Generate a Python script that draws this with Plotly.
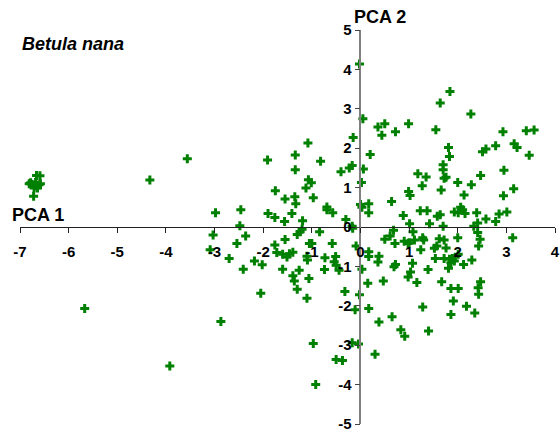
import plotly.graph_objects as go

# PCA scores (Betula nana)
pca1 = [
    -6.59, -6.66, -6.78, -6.68, -6.61, -6.71, -6.64, -6.72, -6.81, -6.58, -6.70, -6.75,
    -3.56, -4.33, -5.67, -3.92, -2.87, -2.05,
    -2.98, -2.46, -2.48, -1.91, -1.90, -1.76, -1.75, -1.56, -1.55, -1.41, -1.34, -1.34,
    -1.35, -1.33, -1.19, -1.12, -1.08, -1.07, -1.01, -0.97, -0.82, -0.69, -0.69, -0.57,
    -0.40, -0.30, -0.23, -0.17, -0.15, -0.17, 0.05, 0.06, 0.02, 0.20, 0.00, 0.03,
    0.17, 0.17, -0.02,
    -3.03, -3.09, -2.70, -2.54, -2.36, -2.41, -2.18, -2.02, -1.76, -1.72, -1.55, -1.60,
    -1.51, -1.46, -1.39, -1.60, -1.39, -1.36, -1.26, -1.30, -1.30, -1.24, -1.20, -1.10,
    -1.06, -1.10, -1.09, -1.05, -1.00, -0.84, -0.73, -0.74, -0.58, -0.54, -0.51, -0.50,
    -0.44, -0.32, -0.11, -0.02, 0.17, 0.03, 0.15, -0.09, 0.17, 0.17, -0.97, -0.17,
    -0.04, -0.50, -0.37, -0.92, -0.16,
    1.84, 1.64, 2.27, 0.36, 0.50, 0.44, 0.72, 0.99, 1.55, 1.81, 1.83, 1.70,
    1.70, 1.72, 1.76, 1.18, 1.35, 1.27, 0.99, 1.02, 0.64, 1.66, 2.00, 2.28,
    2.13, 2.47, 2.51, 2.58, 2.78, 2.93, 3.16, 3.22, 3.41, 3.57, 3.47, 2.95,
    3.15, 2.94, 0.88, 1.01, 1.23, 1.37, 1.42, 1.58, 1.64, 1.70, 1.93, 2.01,
    2.06, 2.10, 2.15, 2.39, 2.41, 2.58, 2.78, 2.85, 3.01, 2.33,
    0.68, 0.50, 0.61, 0.71, 0.90, 1.00, 1.08, 1.11, 1.28, 1.30, 1.24, 1.07,
    1.03, 0.98, 0.72, 0.69, 0.38, 0.36, 0.47, 1.16, 1.39, 1.54, 1.52, 1.57,
    1.62, 1.72, 1.76, 1.72, 1.83, 1.89, 1.86, 1.93, 1.81, 2.01, 2.00, 2.12,
    2.29, 1.67, 1.86, 2.01, 1.91, 1.86, 2.18, 2.35, 2.43, 2.42, 2.47, 2.43,
    2.46, 2.41, 3.13, 1.28, 0.65, 0.38, 0.83, 0.91, 1.40, 0.30, 0.98,
]
pca2 = [
    1.30, 1.31, 1.12, 1.13, 1.07, 0.99, 0.99, 0.78, 1.10, 1.10, 1.05, 1.08,
    1.73, 1.19, -2.07, -3.53, -2.40, -1.68,
    0.36, 0.44, 0.03, 1.70, 0.34, 0.24, 0.92, 0.14, 0.71, 0.34, 1.83, 1.45,
    0.77, 0.59, 0.16, 0.99, 2.13, 1.20, 1.12, 0.74, 1.67, 0.51, 0.44, 0.36,
    1.40, 0.19, 1.50, 1.56, 2.27, 0.02, 2.75, 1.47, 1.13, 1.84, 0.57, 0.50,
    0.59, 0.36, 4.14,
    -0.20, -0.58, -0.80, -0.42, -0.23, -1.07, -0.86, -0.96, -0.46, -0.65, -0.32, -0.69,
    -0.76, -0.68, -0.64, -1.07, -1.24, -1.37, -1.10, -1.58, -0.19, -0.12, -0.06, -1.81,
    -1.31, -0.74, -0.84, -0.42, -0.42, -0.12, -0.78, -1.08, -0.42, -0.88, -0.75, -0.97,
    -1.10, -1.64, -2.10, -1.72, -2.07, -1.07, -1.43, -0.48, -0.75, -0.63, -2.96, -2.94,
    -2.97, -3.36, -3.39, -4.00, -0.03,
    3.44, 3.15, 2.87, 2.54, 2.62, 2.33, 2.42, 2.62, 2.47, 2.02, 1.79, 1.58,
    1.45, 1.24, 1.26, 1.35, 1.27, 1.05, 0.90, 0.80, 0.65, 0.94, 1.13, 1.07,
    0.81, 1.31, 1.91, 1.98, 2.06, 2.42, 2.11, 2.02, 2.44, 2.46, 1.82, 1.44,
    0.97, 0.79, 0.29, 0.08, 0.41, 0.41, 0.08, 0.27, 0.31, 0.02, 0.38, 0.36,
    0.50, 0.44, 0.34, 0.36, 0.10, 0.20, 0.14, 0.33, 0.38, 0.02,
    -0.08, -0.31, -0.23, -0.42, -0.36, -0.40, -0.12, -0.33, -0.27, -0.33, -0.58, -0.92,
    -1.14, -1.27, -0.95, -1.01, -0.74, -0.89, -1.37, -1.41, -1.08, -0.80, -0.54, -0.48,
    -0.30, -0.33, -0.53, -0.80, -0.82, -0.80, -0.91, -0.86, -1.05, -0.69, -0.27, -0.95,
    -0.84, -1.39, -1.56, -1.56, -1.88, -2.22, -2.01, -2.18, -1.71, -1.54, -1.39, -0.48,
    -0.31, -0.14, -0.27, -2.03, -2.28, -2.41, -2.61, -2.77, -2.64, -3.23, -0.42,
]

x_ticks = [-7, -6, -5, -4, -3, -2, -1, 0, 1, 2, 3, 4]
y_ticks = [-5, -4, -3, -2, -1, 0, 1, 2, 3, 4, 5]

FONT = "Liberation Sans, Arial, sans-serif"

fig = go.Figure()
fig.add_trace(go.Scatter(
    x=pca1, y=pca2, mode="markers",
    marker=dict(symbol="cross", size=7.5, color="#008000", line=dict(width=0)),
    showlegend=False, cliponaxis=False,
))

x_min, x_max = -7, 4
y_min, y_max = -5, 5

fig.update_layout(
    width=560, height=432,
    margin=dict(l=20, r=0, t=30, b=7),
    paper_bgcolor="white", plot_bgcolor="white",
    font=dict(family=FONT, color="black"),
    xaxis=dict(
        range=[x_min, x_max], tickvals=x_ticks,
        ticktext=[f"<b>{v}</b>" for v in x_ticks],
        showgrid=False, zeroline=False,
        showline=True, linecolor="#222222", linewidth=1.3,
        ticks="outside", ticklen=5, tickcolor="#222222", tickwidth=1.3,
        tickfont=dict(size=15, family=FONT, color="black"),
        ticklabelstandoff=6, ticklabeloverflow="allow",
        anchor="free", position=(0 - y_min) / (y_max - y_min),
    ),
    yaxis=dict(
        range=[y_min, y_max], tickvals=y_ticks,
        ticktext=[f"<b>{v}</b>" for v in y_ticks],
        showgrid=False, zeroline=False,
        showline=True, linecolor="#808080", linewidth=1.5,
        ticks="outside", ticklen=5, tickcolor="#444444", tickwidth=1.3,
        tickfont=dict(size=15, family=FONT, color="black"),
        ticklabeloverflow="allow",
        anchor="free", position=(0 - x_min) / (x_max - x_min),
    ),
    annotations=[
        dict(text="<b><i>Betula nana</i></b>", xref="paper", yref="paper",
             x=0.0, y=0.965, xanchor="left", yanchor="middle", showarrow=False,
             font=dict(size=18, family=FONT, color="black")),
        dict(text="<b>PCA 1</b>", xref="paper", yref="paper",
             x=-0.019, y=0.53, xanchor="left", yanchor="middle", showarrow=False,
             font=dict(size=18, family=FONT, color="black")),
        dict(text="<b>PCA 2</b>", xref="paper", yref="paper",
             x=0.621, y=1.033, xanchor="left", yanchor="middle", showarrow=False,
             font=dict(size=18, family=FONT, color="black")),
    ],
)

fig.write_html("out.html")
